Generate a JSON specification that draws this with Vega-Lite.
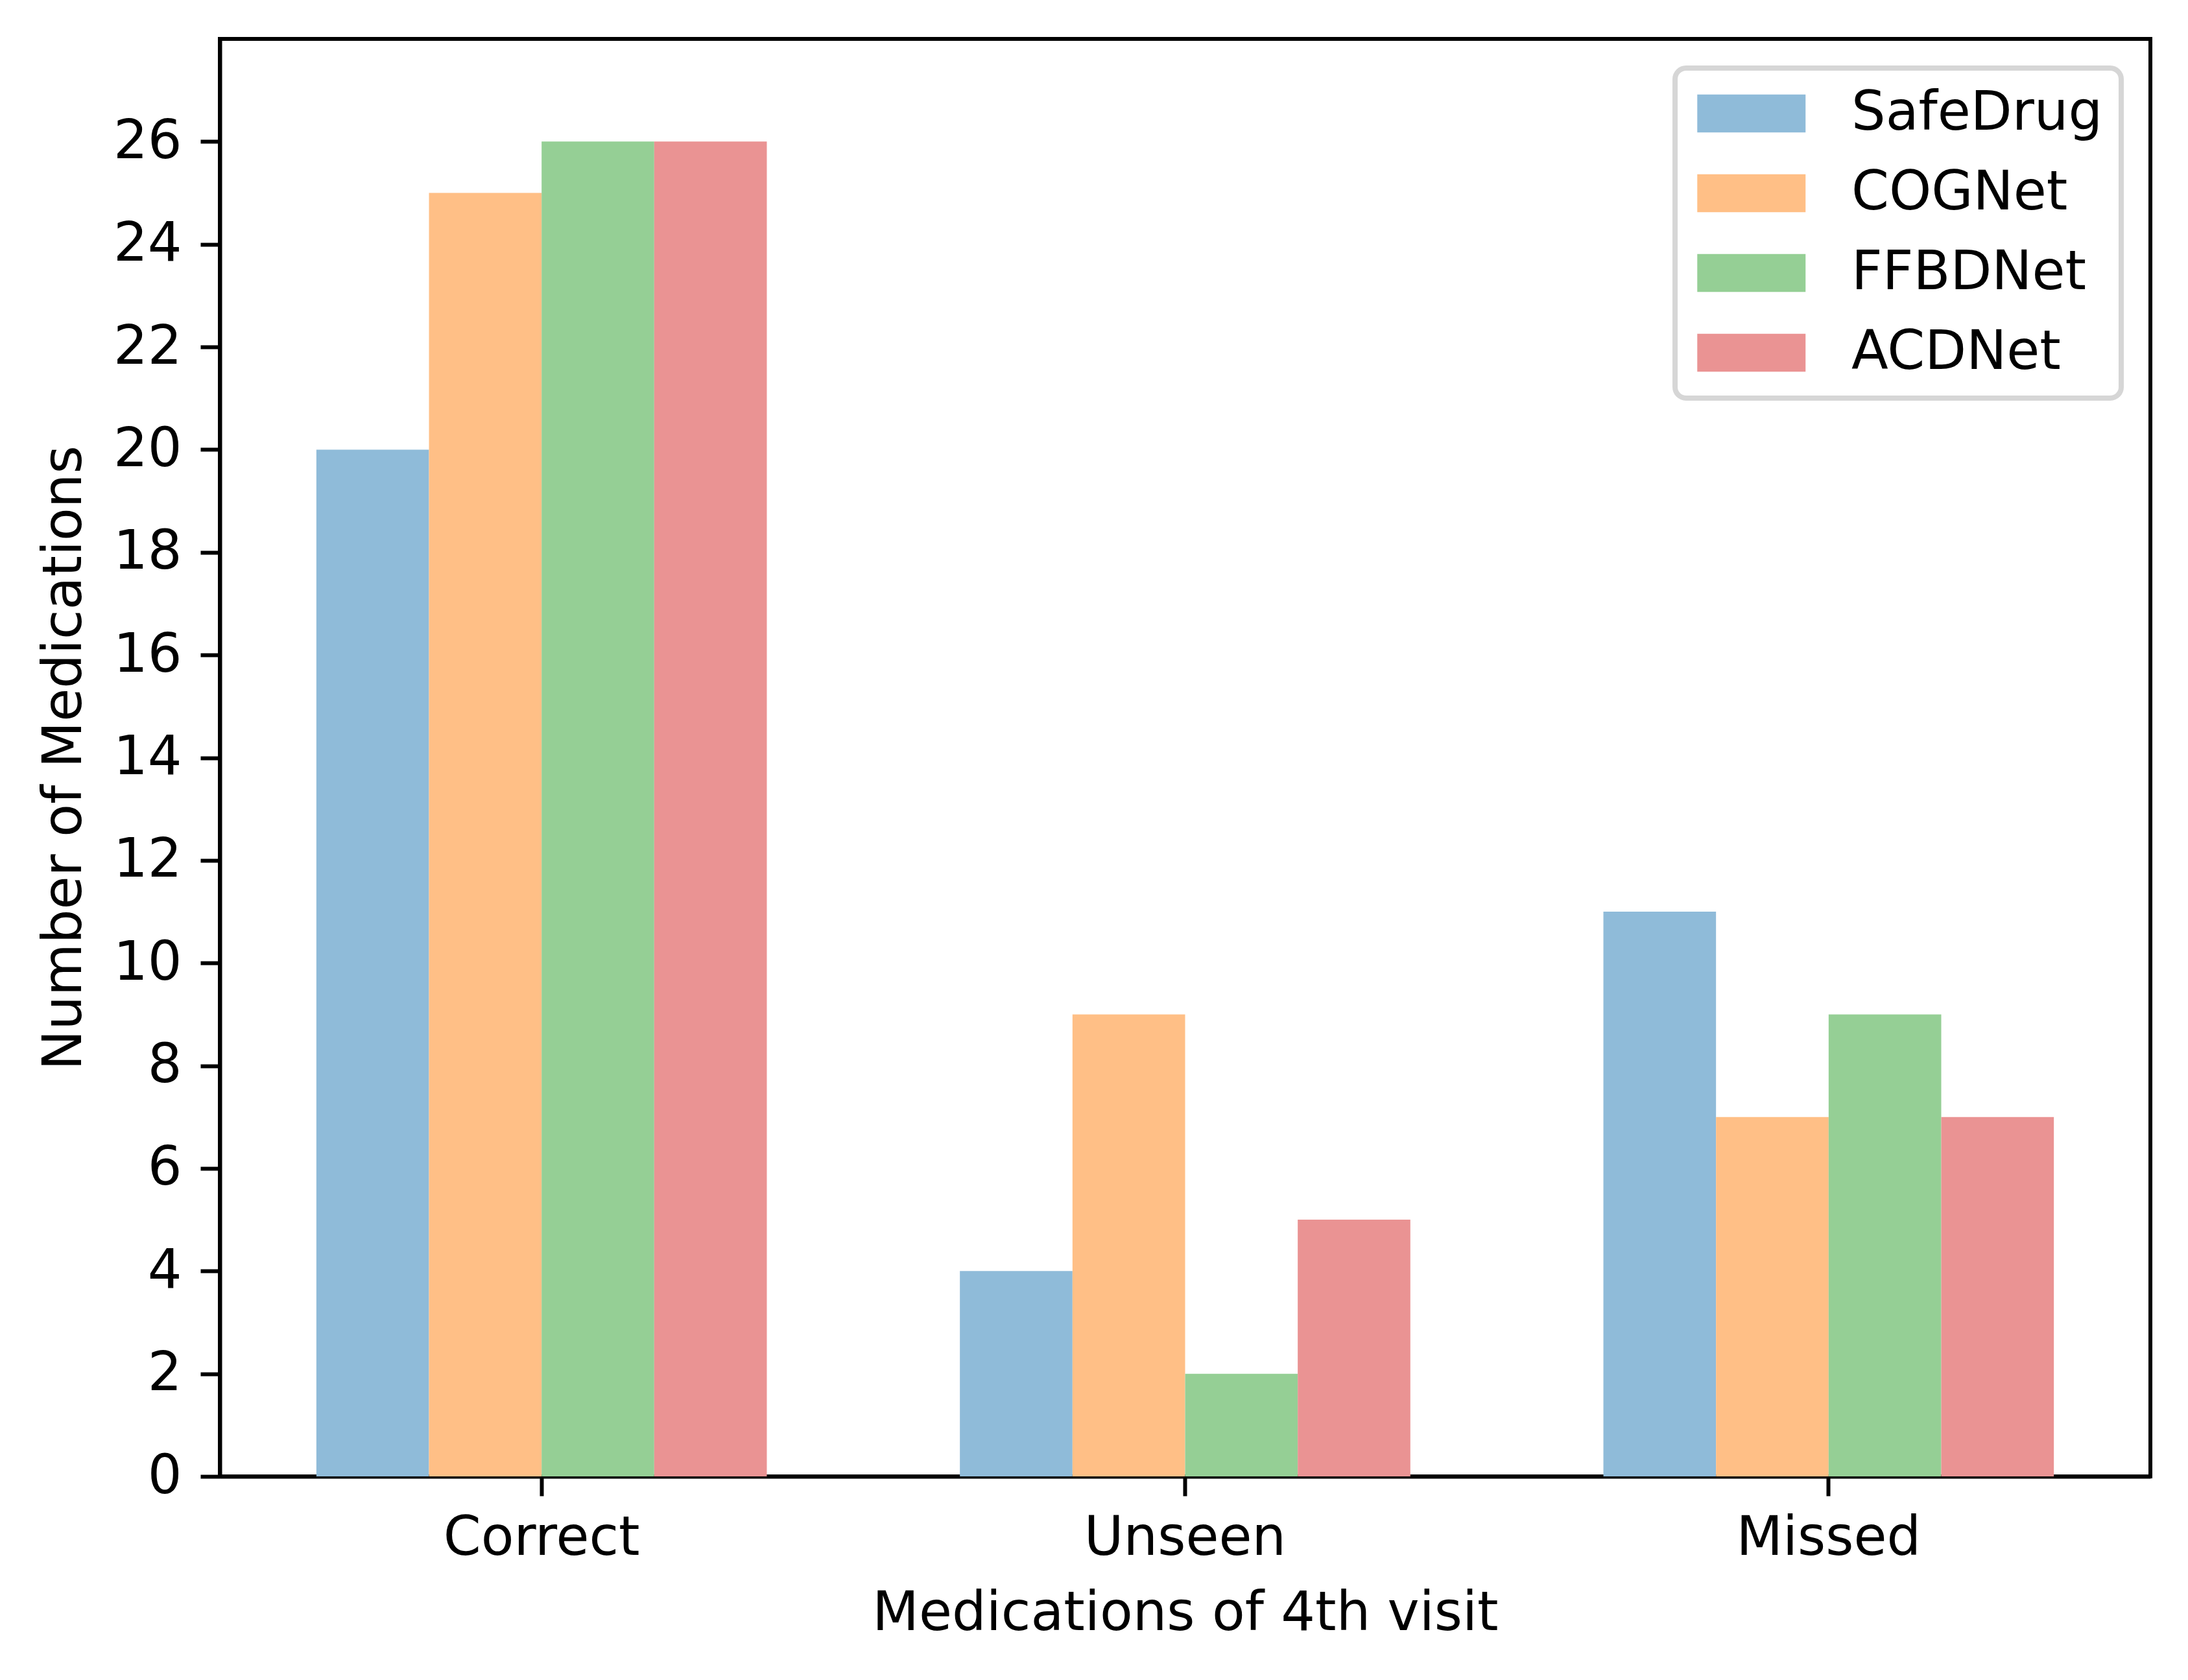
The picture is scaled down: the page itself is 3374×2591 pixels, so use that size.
{
  "$schema": "https://vega.github.io/schema/vega-lite/v6.json",
  "width": 2977,
  "height": 2217,
  "autosize": {"type": "none"},
  "padding": {"left": 339, "top": 60, "right": 58, "bottom": 314},
  "background": "white",
  "data": {
    "values": [
      {"visit": "Correct", "method": "SafeDrug", "count": 20},
      {"visit": "Correct", "method": "COGNet", "count": 25},
      {"visit": "Correct", "method": "FFBDNet", "count": 26},
      {"visit": "Correct", "method": "ACDNet", "count": 26},
      {"visit": "Unseen", "method": "SafeDrug", "count": 4},
      {"visit": "Unseen", "method": "COGNet", "count": 9},
      {"visit": "Unseen", "method": "FFBDNet", "count": 2},
      {"visit": "Unseen", "method": "ACDNet", "count": 5},
      {"visit": "Missed", "method": "SafeDrug", "count": 11},
      {"visit": "Missed", "method": "COGNet", "count": 7},
      {"visit": "Missed", "method": "FFBDNet", "count": 9},
      {"visit": "Missed", "method": "ACDNet", "count": 7}
    ]
  },
  "mark": {"type": "bar", "opacity": 1},
  "encoding": {
    "x": {
      "field": "visit",
      "type": "nominal",
      "sort": ["Correct", "Unseen", "Missed"],
      "scale": {"paddingInner": 0.3, "paddingOuter": 0.15},
      "title": "Medications of 4th visit",
      "axis": {"labelAngle": 0, "labelPadding": 24}
    },
    "xOffset": {
      "field": "method",
      "type": "nominal",
      "sort": ["SafeDrug", "COGNet", "FFBDNet", "ACDNet"],
      "scale": {"paddingInner": 0, "paddingOuter": 0}
    },
    "y": {
      "field": "count",
      "type": "quantitative",
      "scale": {"domain": [0, 28], "nice": false},
      "title": "Number of Medications",
      "axis": {"values": [0, 2, 4, 6, 8, 10, 12, 14, 16, 18, 20, 22, 24, 26]}
    },
    "color": {
      "field": "method",
      "type": "nominal",
      "sort": ["SafeDrug", "COGNet", "FFBDNet", "ACDNet"],
      "scale": {
        "domain": ["SafeDrug", "COGNet", "FFBDNet", "ACDNet"],
        "range": ["#8fbbd9", "#ffbf86", "#95cf95", "#ea9393"]
      },
      "legend": {
        "title": null,
        "orient": "top-right",
        "offset": 45,
        "symbolType": "M-0.856,-0.7L3.144,-0.7L3.144,0.7L-0.856,0.7Z",
        "symbolSize": 6972,
        "symbolStrokeWidth": 0,
        "symbolOpacity": 1,
        "labelFontSize": 83,
        "labelFont": "DejaVu Sans",
        "labelColor": "black",
        "labelLimit": 0,
        "labelOffset": 160,
        "rowPadding": 39,
        "padding": 28,
        "fillColor": "white",
        "strokeColor": "#d6d6d6",
        "cornerRadius": 17,
        "encode": {
          "legend": {"update": {"strokeWidth": {"value": 8}}}
        }
      }
    }
  },
  "config": {
    "font": "DejaVu Sans",
    "view": {"stroke": "black", "strokeWidth": 6},
    "axis": {
      "grid": false,
      "domain": true,
      "domainColor": "black",
      "domainWidth": 6,
      "ticks": true,
      "tickColor": "black",
      "tickWidth": 6,
      "tickSize": 30,
      "labelFont": "DejaVu Sans",
      "labelFontSize": 83,
      "labelColor": "black",
      "labelLimit": 0,
      "labelPadding": 29,
      "titleFont": "DejaVu Sans",
      "titleFontSize": 83,
      "titleFontWeight": "normal",
      "titleColor": "black",
      "titlePadding": 33
    }
  }
}
